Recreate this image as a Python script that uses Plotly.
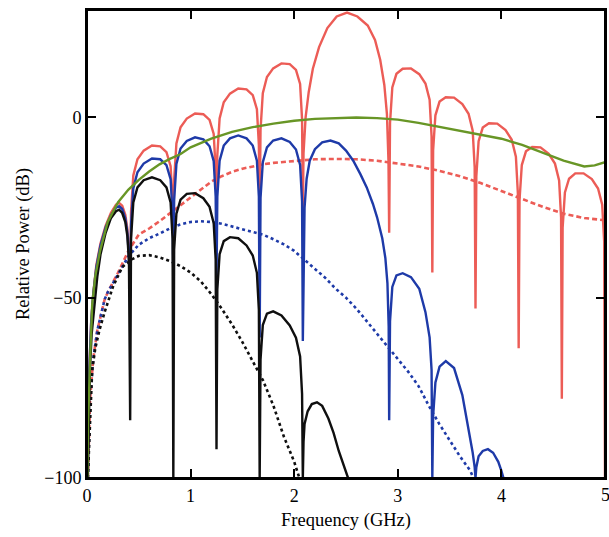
import plotly.graph_objects as go

# ---- Solid spectra: frequency (GHz) and relative power (dB) ----
red_freq = [0.005, 0.012, 0.025, 0.04, 0.06, 0.09, 0.13, 0.18, 0.23, 0.28, 0.31, 0.34, 0.37, 0.39, 0.405,
            0.4167,
            0.425, 0.447, 0.487, 0.547, 0.627, 0.707, 0.767, 0.807, 0.826,
            0.8333,
            0.841, 0.863, 0.903, 0.963, 1.043, 1.123, 1.183, 1.223, 1.242,
            1.25,
            1.258, 1.28, 1.32, 1.38, 1.46, 1.54, 1.60, 1.64, 1.659,
            1.6667,
            1.675, 1.697, 1.737, 1.797, 1.877, 1.957, 2.017, 2.057, 2.076,
            2.0833,
            2.09, 2.11, 2.14, 2.18, 2.24, 2.32, 2.41, 2.51, 2.61, 2.71, 2.78, 2.83, 2.87, 2.895, 2.91,
            2.9167,
            2.925, 2.947, 2.987, 3.047, 3.127, 3.207, 3.267, 3.307, 3.326,
            3.3333,
            3.341, 3.363, 3.403, 3.463, 3.543, 3.623, 3.683, 3.723, 3.742,
            3.75,
            3.758, 3.78, 3.82, 3.88, 3.96, 4.04, 4.10, 4.14, 4.159,
            4.1667,
            4.175, 4.197, 4.237, 4.297, 4.377, 4.457, 4.517, 4.557, 4.576,
            4.5833,
            4.591, 4.613, 4.653, 4.713, 4.793, 4.873, 4.933, 4.973, 4.992,
            5.0]
red_db = [-100, -85, -68, -57, -49, -41, -35, -30, -26.5, -24.2, -23.7, -24.5, -27, -31, -38,
          -48,
          -26.2, -16.1, -11.6, -9.2, -7.8, -8.0, -9.6, -13.5, -23.4,
          -32,
          -17.3, -7.2, -2.7, -0.3, 1.1, 0.9, -0.7, -4.6, -14.5,
          -24,
          -10.4, -0.3, 4.2, 6.6, 8.0, 7.8, 6.2, 2.3, -7.6,
          -27,
          -3.4, 6.7, 11.2, 13.6, 15.0, 14.8, 13.2, 9.3, -0.6,
          -26,
          -10, 0, 7, 13.5, 19.5, 24.8, 28, 29.1, 28, 25.5, 21.5, 16, 9, 1, -12,
          -32,
          -1.5, 8.3, 12.1, 13.5, 13.6, 12.0, 9.4, 4.9, -5.3,
          -43,
          -9.1, 0.6, 4.4, 5.6, 5.5, 3.7, 1.0, -3.7, -13.9,
          -53,
          -16.3, -6.6, -2.8, -1.6, -1.7, -3.5, -6.2, -10.9, -21.1,
          -64,
          -22.9, -13.2, -9.4, -8.2, -8.3, -10.1, -12.8, -17.5, -27.7,
          -78,
          -30.6, -20.8, -17.0, -15.5, -15.5, -17.1, -19.7, -24.2, -34.4,
          -100]

blue_freq = [0.005, 0.012, 0.025, 0.04, 0.06, 0.09, 0.13, 0.18, 0.23, 0.28, 0.31, 0.34, 0.37, 0.39, 0.405,
             0.4167,
             0.425, 0.447, 0.487, 0.547, 0.627, 0.707, 0.767, 0.807, 0.826,
             0.8333,
             0.841, 0.863, 0.903, 0.963, 1.043, 1.123, 1.183, 1.223, 1.242,
             1.25,
             1.258, 1.28, 1.32, 1.38, 1.46, 1.54, 1.60, 1.64, 1.659,
             1.6667,
             1.675, 1.697, 1.737, 1.797, 1.877, 1.957, 2.017, 2.057, 2.076,
             2.0833,
             2.09, 2.10, 2.12, 2.15, 2.2, 2.27, 2.35, 2.43, 2.5, 2.57, 2.64, 2.7, 2.76, 2.8, 2.85, 2.88, 2.9, 2.912,
             2.9167,
             2.925, 2.947, 2.987, 3.047, 3.127, 3.207, 3.267, 3.307, 3.326,
             3.3333,
             3.341, 3.363, 3.403, 3.463, 3.543, 3.623, 3.683, 3.723, 3.742,
             3.75,
             3.758, 3.78, 3.82, 3.87, 3.92, 3.97, 4.0, 4.02]
blue_db = [-100, -85, -68, -57, -49, -41.5, -35.5, -30.5, -27.2, -25, -24.6, -25.4, -28, -32, -39,
           -50,
           -29.8, -19.7, -15.2, -12.8, -11.4, -11.6, -13.2, -17.1, -27.0,
           -45,
           -23.0, -12.9, -8.6, -6.5, -5.5, -6.1, -8.0, -12.1, -22.0,
           -45,
           -22.0, -12.0, -7.8, -5.8, -5.0, -5.8, -7.8, -12.0, -22.0,
           -61,
           -22.3, -12.4, -8.3, -6.4, -5.8, -6.8, -8.9, -13.2, -23.3,
           -62,
           -40, -25, -17, -12, -8.8, -6.9, -6.4, -7.2, -9.2, -12, -15.8, -19.4, -24, -27.7, -33.5, -39, -46, -58,
           -84,
           -56.5, -47.0, -43.8, -43.2, -44.3, -47.5, -54.0, -61.0, -70.0,
           -100,
           -82.8, -73.5, -69.1, -67.6, -69.5, -77, -86, -93, -97,
           -100,
           -97, -94, -92.5, -92, -93, -95.5, -98, -100]

black_freq = [0.008, 0.015, 0.028, 0.045, 0.065, 0.08, 0.1, 0.13, 0.18, 0.23, 0.28, 0.31, 0.34, 0.37, 0.39, 0.405,
              0.4167,
              0.425, 0.447, 0.487, 0.547, 0.627, 0.707, 0.767, 0.807, 0.826,
              0.8333,
              0.841, 0.863, 0.903, 0.963, 1.043, 1.123, 1.183, 1.223, 1.242,
              1.25,
              1.258, 1.28, 1.32, 1.38, 1.46, 1.54, 1.60, 1.64, 1.659,
              1.6667,
              1.675, 1.697, 1.737, 1.797, 1.877, 1.957, 2.017, 2.057, 2.076, 2.081,
              2.0833,
              2.09, 2.1, 2.13, 2.17, 2.22, 2.27, 2.33, 2.38, 2.43, 2.48, 2.52]
black_db = [-100, -85, -70, -60, -54, -49.5, -44, -38, -32, -28, -26, -25.6, -26.5, -29, -33, -40,
            -84,
            -33.6, -23.6, -19.4, -17.4, -16.6, -17.4, -19.4, -23.6, -33.6,
            -100,
            -36.6, -26.7, -22.8, -21.2, -21.0, -22.4, -24.8, -29.3, -39.4,
            -92,
            -47.6, -37.9, -34.3, -33.2, -33.5, -35.5, -38.3, -43.1, -53.4,
            -100,
            -67.1, -57.6, -54.4, -53.8, -54.9, -57.7, -61.1, -66.3, -76.7, -88,
            -100,
            -90, -85, -81.5, -79.5, -79, -80, -83.5, -87.5, -92.5, -97, -100]

# ---- Envelopes ----
green_freq = [0.003, 0.01, 0.03, 0.05, 0.08, 0.126, 0.2, 0.3, 0.4, 0.5, 0.6, 0.7, 0.8, 0.9, 1.0,
              1.2, 1.4, 1.6, 1.8, 2.0, 2.2, 2.4, 2.6, 2.8, 3.0, 3.2, 3.4, 3.6, 3.8, 4.0,
              4.2, 4.4, 4.6, 4.8, 4.9, 5.0]
green_db = [-100, -85, -67, -52, -44, -37, -29, -23.5, -20, -17.3, -15, -13, -11.5, -10.2, -8.3,
            -5.9, -4, -2.7, -1.7, -0.9, -0.4, -0.1, 0, -0.2, -0.6, -1.5, -2.6, -3.6, -4.6, -5.9,
            -7.6, -9.8, -12, -13.6, -13.3, -12.4]

red_env_freq = [0.008, 0.03, 0.06, 0.1, 0.17, 0.2, 0.3, 0.4, 0.5, 0.6, 0.7, 0.8, 0.9, 1.0, 1.1, 1.2,
                1.3, 1.4, 1.5, 1.6, 1.7, 1.8, 1.9, 2.0, 2.2, 2.4, 2.6, 2.8, 3.0, 3.2, 3.4, 3.6,
                3.8, 4.0, 4.2, 4.4, 4.6, 4.8, 5.0]
red_env_db = [-100, -78, -67, -59, -50.5, -48.5, -43, -37, -32.5, -30.8, -28.8, -26.6, -24.2, -22, -19.8, -17.8,
              -16.3, -15.1, -14.2, -13.5, -13, -12.6, -12.3, -12, -11.6, -11.5, -11.6, -12, -12.7, -13.6, -14.8, -16.3,
              -18.2, -20.3, -22.6, -24.8, -26.7, -27.9, -28.5]

blue_env_freq = [0.008, 0.03, 0.06, 0.1, 0.17, 0.2, 0.3, 0.4, 0.5, 0.6, 0.7, 0.8, 0.9, 1.0, 1.1, 1.2,
                 1.3, 1.4, 1.5, 1.6, 1.7, 1.8, 1.9, 2.0, 2.1, 2.2, 2.3, 2.4, 2.5, 2.6, 2.7, 2.8,
                 2.9, 3.0, 3.1, 3.2, 3.3, 3.4, 3.5, 3.6, 3.7, 3.73]
blue_env_db = [-100, -78, -67, -59, -50.5, -48.5, -43.5, -38.5, -35.3, -33.5, -32.2, -30.8, -29.7, -29, -28.8, -29,
               -29.5, -30.3, -31, -31.7, -32.5, -33.8, -35.2, -37, -39.5, -42, -44.5, -47.5, -50, -53, -56.5, -60,
               -63.5, -67, -70.5, -74.5, -80, -85, -89.5, -94, -98, -100]

black_env_freq = [0.008, 0.03, 0.05, 0.08, 0.12, 0.17, 0.25, 0.34, 0.43, 0.5, 0.6, 0.7, 0.8, 0.9, 1.0,
                  1.1, 1.2, 1.3, 1.4, 1.5, 1.6, 1.7, 1.8, 1.9, 2.0, 2.05]
black_env_db = [-100, -82, -70, -64, -59, -54, -47, -41.5, -39.4, -38.4, -38.2, -38.8, -39.8, -41.2, -43,
                -45.5, -49, -53, -57.4, -62.3, -67.5, -73, -80, -88.5, -95.5, -100]

x_ticks = [0, 1, 2, 3, 4, 5]
y_ticks = [-100, -50, 0]
y_tick_text = ["\u2212100", "\u221250", "0"]

RED = "rgb(236,92,86)"
BLUE = "rgb(30,58,168)"
BLACK = "rgb(15,15,15)"
GREEN = "rgb(104,150,38)"
SERIF = "Liberation Serif"

fig = go.Figure()

# dotted envelopes underneath
fig.add_trace(go.Scatter(x=red_env_freq, y=red_env_db, mode="lines",
                         line=dict(color=RED, width=2.6, dash="5px,3px")))
fig.add_trace(go.Scatter(x=blue_env_freq, y=blue_env_db, mode="lines",
                         line=dict(color=BLUE, width=2.6, dash="3px,3px")))
fig.add_trace(go.Scatter(x=black_env_freq, y=black_env_db, mode="lines",
                         line=dict(color=BLACK, width=2.6, dash="3px,3px")))

# solid spectra
fig.add_trace(go.Scatter(x=red_freq, y=red_db, mode="lines", line=dict(color=RED, width=2.4)))
fig.add_trace(go.Scatter(x=blue_freq, y=blue_db, mode="lines", line=dict(color=BLUE, width=2.4)))
fig.add_trace(go.Scatter(x=black_freq, y=black_db, mode="lines", line=dict(color=BLACK, width=2.4)))
fig.add_trace(go.Scatter(x=green_freq, y=green_db, mode="lines", line=dict(color=GREEN, width=2.4)))

axis_common = dict(
    showline=True, linecolor="black", linewidth=2, mirror="ticks",
    ticks="inside", ticklen=9, tickwidth=2, tickcolor="black",
    showgrid=False, zeroline=False, automargin=False,
    tickfont=dict(family=SERIF, size=18, color="black"),
)

fig.update_layout(
    width=609, height=537,
    margin=dict(l=87, r=4, t=10, b=59),
    plot_bgcolor="white", paper_bgcolor="white",
    showlegend=False,
    font=dict(family=SERIF, size=18, color="black"),
    xaxis=dict(range=[0, 5], tickvals=x_ticks,
               title=dict(text="Frequency (GHz)", standoff=8,
                          font=dict(family=SERIF, size=18.5)),
               **axis_common),
    yaxis=dict(range=[-100, 29.8], tickvals=y_ticks, ticktext=y_tick_text,
               title=dict(text="Relative Power (dB)", standoff=10,
                          font=dict(family=SERIF, size=18.5)),
               **axis_common),
    # closed frame around the plotting area
    shapes=[dict(type="rect", xref="paper", yref="paper", x0=0, x1=1, y0=0, y1=1,
                 line=dict(color="black", width=2), layer="above")],
    # last x tick label sits on the page edge, so place it directly
    annotations=[dict(x=x_ticks[-1], xref="x", y=0, yref="paper", text=str(x_ticks[-1]),
                      showarrow=False, yanchor="top", yshift=-5,
                      font=dict(family=SERIF, size=18, color="black"))],
)

fig.write_html("out.html")
